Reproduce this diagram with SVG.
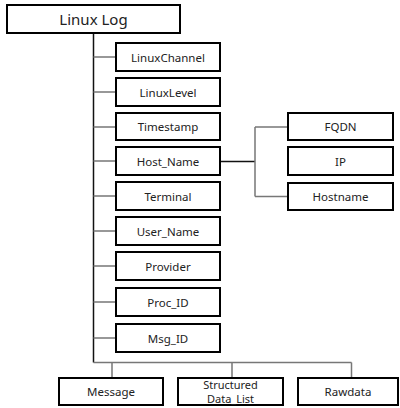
<svg xmlns="http://www.w3.org/2000/svg" width="400" height="408" viewBox="0 0 400 408">
<style>
.box{fill:#fff;stroke:#000;stroke-width:2}
.t{font-family:"Noto Sans","Open Sans",sans-serif;font-size:11.5px;fill:#222;text-anchor:middle;dominant-baseline:central}
.c{fill:none;stroke:#777;stroke-width:1.5}
.k{fill:none;stroke:#111;stroke-width:1.5}
</style>
<rect width="400" height="408" fill="#fff"/>
<g id="connectors">
<path class="k" d="M93.5,33 V362.5"/>
<path class="c" d="M93.5,57 H116 M93.5,92 H116 M93.5,127 H116 M93.5,161 H116 M93.5,196 H116 M93.5,231 H116 M93.5,266 H116 M93.5,302 H116 M93.5,338 H116"/>
<path class="c" d="M93.5,362.5 H351.5 M112,362.5 V378 M232,362.5 V378 M351.5,362.5 V378"/>
<path class="k" d="M220,161.5 H255"/>
<path class="c" d="M255,127 V196.5 M255,127 H288 M255,196.5 H288"/>
</g>
<g id="linux_log"><rect class="box" x="7" y="5" width="173" height="28"/><text class="t" x="93.5" y="19" style="font-size:15px">Linux Log</text></g>
<g id="linuxchannel"><rect class="box" x="116" y="43" width="104" height="28"/><text class="t" x="168" y="57">LinuxChannel</text></g>
<g id="linuxlevel"><rect class="box" x="116" y="78" width="104" height="28"/><text class="t" x="168" y="92">LinuxLevel</text></g>
<g id="timestamp"><rect class="box" x="116" y="113" width="104" height="27"/><text class="t" x="168" y="126.5">Timestamp</text></g>
<g id="host_name"><rect class="box" x="116" y="147" width="104" height="28"/><text class="t" x="168" y="161">Host_Name</text></g>
<g id="terminal"><rect class="box" x="116" y="182" width="104" height="28"/><text class="t" x="168" y="196">Terminal</text></g>
<g id="user_name"><rect class="box" x="116" y="217" width="104" height="28"/><text class="t" x="168" y="231">User_Name</text></g>
<g id="provider"><rect class="box" x="116" y="252" width="104" height="28"/><text class="t" x="168" y="266">Provider</text></g>
<g id="proc_id"><rect class="box" x="116" y="288" width="104" height="28"/><text class="t" x="168" y="302">Proc_ID</text></g>
<g id="msg_id"><rect class="box" x="116" y="324" width="104" height="28"/><text class="t" x="168" y="338">Msg_ID</text></g>
<g id="fqdn"><rect class="box" x="288" y="113" width="105" height="27"/><text class="t" x="340.5" y="126.5">FQDN</text></g>
<g id="ip"><rect class="box" x="288" y="147" width="105" height="28"/><text class="t" x="340.5" y="161">IP</text></g>
<g id="hostname"><rect class="box" x="288" y="183" width="105" height="27"/><text class="t" x="340.5" y="196.5">Hostname</text></g>
<g id="message"><rect class="box" x="59" y="378" width="104" height="27"/><text class="t" x="111" y="391.5">Message</text></g>
<g id="structured_data_list"><rect class="box" x="178" y="378" width="105" height="27"/><text class="t" x="230.5" y="384.5" style="font-size:11px">Structured</text><text class="t" x="230.5" y="398.5" style="font-size:11px">Data_List</text></g>
<g id="rawdata"><rect class="box" x="298" y="378" width="100" height="27"/><text class="t" x="348" y="391.5">Rawdata</text></g>
</svg>
